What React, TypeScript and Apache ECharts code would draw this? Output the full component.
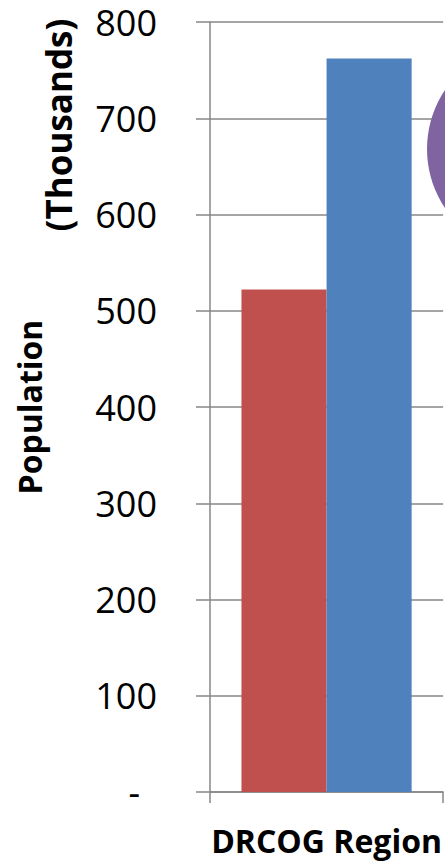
import React, { useEffect, useRef } from "react";
import * as echarts from "echarts";

const categories = ["DRCOG Region"];
const seriesRedName = "Series A";
const seriesRedValues = [522];
const seriesBlueName = "Series B";
const seriesBlueValues = [762];
const yTicks = [0, 100, 200, 300, 400, 500, 600, 700, 800];
const titleLine1 = "Population";
const titleLine2 = "(Thousands)";

const FONT = "'Open Sans', 'Noto Sans', sans-serif";
const GRID = "#878787";

export default function App() {
  const ref = useRef<HTMLDivElement>(null);
  useEffect(() => {
    if (!ref.current) return;
    const chart = echarts.init(ref.current, null, { renderer: "svg" });
    chart.setOption({
      animation: false,
      backgroundColor: "#ffffff",
      grid: { left: 210, right: 1, top: 22, bottom: 69, containLabel: false },
      xAxis: {
        type: "category",
        data: categories,
        boundaryGap: true,
        axisLine: { show: true, lineStyle: { color: GRID, width: 1.5 } },
        axisTick: { show: true, length: 11, alignWithLabel: false, lineStyle: { color: GRID, width: 1.5 } },
        axisLabel: {
          margin: 32,
          color: "#000",
          fontFamily: FONT,
          fontWeight: "bold",
          fontSize: 32,
        },
        splitLine: { show: false },
      },
      yAxis: {
        type: "value",
        min: yTicks[0],
        max: yTicks[yTicks.length - 1],
        interval: 100,
        axisLine: { show: true, lineStyle: { color: GRID, width: 1.5 } },
        axisTick: { show: true, inside: false, length: 14, lineStyle: { color: GRID, width: 1.5 } },
        splitLine: { show: true, lineStyle: { color: GRID, width: 1.5 } },
        axisLabel: {
          margin: 53,
          color: "#000",
          fontFamily: FONT,
          fontSize: 36,
          lineHeight: 30,
          formatter: (v: number) => (v === 0 ? "{d|-}" : String(v)),
          rich: {
            d: { fontFamily: FONT, fontSize: 36, lineHeight: 30, color: "#000", padding: [0, 17, 0, 0] },
          },
        },
      },
      series: [
        {
          name: seriesRedName,
          type: "bar",
          data: seriesRedValues,
          itemStyle: { color: "#C0504D" },
          barGap: "0%",
          barCategoryGap: "27%",
        },
        {
          name: seriesBlueName,
          type: "bar",
          data: seriesBlueValues,
          itemStyle: { color: "#4F81BD" },
          barGap: "0%",
          barCategoryGap: "27%",
        },
      ],
      graphic: [
        {
          type: "circle",
          shape: { cx: 533, cy: 149, r: 106 },
          style: { fill: "#8064A2" },
          z: 100,
        },
        {
          type: "text",
          x: 29,
          y: 407,
          rotation: Math.PI / 2,
          style: {
            text: titleLine1,
            fontFamily: FONT,
            fontWeight: "bold",
            fontSize: 32,
            fill: "#000",
            textAlign: "center",
            textVerticalAlign: "middle",
          },
        },
        {
          type: "text",
          x: 58,
          y: 125,
          rotation: Math.PI / 2,
          style: {
            text: titleLine2,
            fontFamily: FONT,
            fontWeight: "bold",
            fontSize: 35,
            fill: "#000",
            textAlign: "center",
            textVerticalAlign: "middle",
          },
        },
      ],
    });
    return () => chart.dispose();
  }, []);
  return (
    <div style={{ position: "absolute", left: 0, top: 0, width: 445, height: 861, overflow: "hidden" }}>
      <div ref={ref} style={{ width: 445, height: 861 }} />
    </div>
  );
}
